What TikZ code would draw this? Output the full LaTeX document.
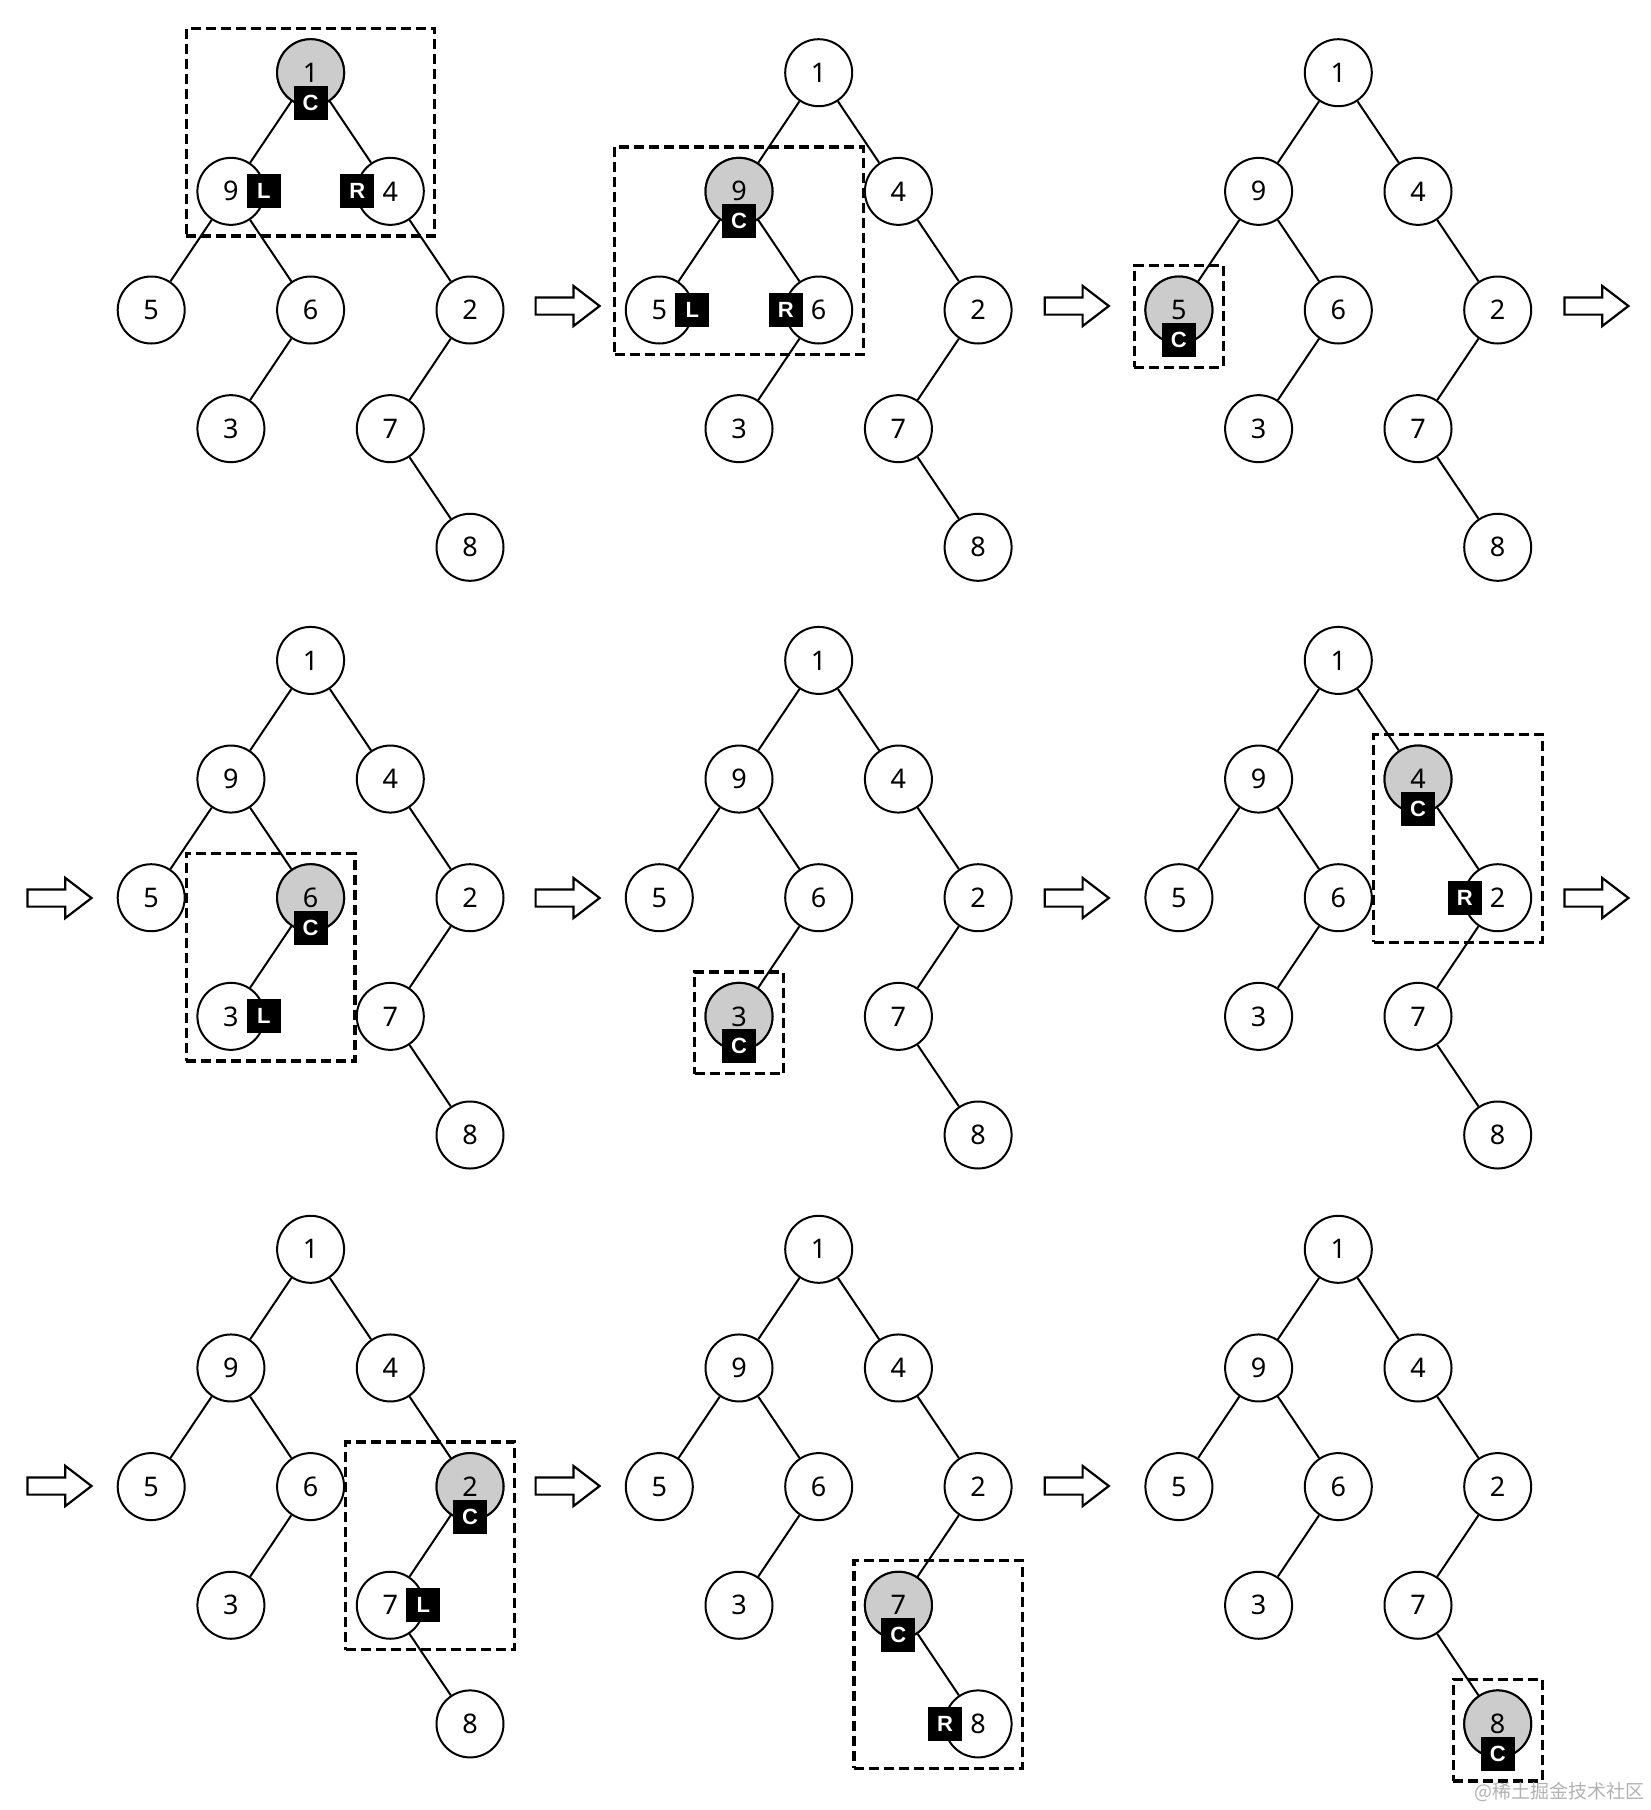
\documentclass[tikz,border=0pt]{standalone}
\usepackage{fontspec}
\setmainfont{Noto Sans}
\newfontfamily\tagfont{Liberation Sans}
\newfontfamily\cjk{Noto Sans CJK SC}
\usetikzlibrary{positioning, fit, shapes.arrows}

\definecolor{curgray}{gray}{0.8}
\tikzset{
  tnode/.style={circle, draw, fill=white, line width=2pt, minimum size=67pt, inner sep=0pt,
    font=\fontsize{27}{30}\selectfont},
  edge/.style={line width=2pt},
  tag/.style={fill=black, text=white, minimum size=34pt, inner sep=0pt,
    font=\tagfont\bfseries\fontsize{22}{22}\selectfont},
  selbox/.style={draw, dashed, dash pattern=on 10pt off 5pt, line width=3.3pt, inner sep=10pt},
  bigarrow/.style={single arrow, draw, fill=white, line width=2.2pt, inner xsep=0pt,
    inner ysep=7.5pt, minimum height=64pt, single arrow head extend=11.5pt,
    single arrow tip angle=75, anchor=tail}
}

% one tree: #1 prefix, (#2,#3) position of the root
\newcommand{\bintree}[3]{%
  \begin{scope}[shift={(#2,#3)}]
    \node[tnode] (#11) at (0,0) {1};
    \node[tnode] (#19) at (-79.7,118.65) {9};
    \node[tnode] (#14) at (79.7,118.65) {4};
    \node[tnode] (#15) at (-159.4,237.3) {5};
    \node[tnode] (#16) at (0,237.3) {6};
    \node[tnode] (#12) at (159.4,237.3) {2};
    \node[tnode] (#13) at (-79.7,355.95) {3};
    \node[tnode] (#17) at (79.7,355.95) {7};
    \node[tnode] (#18) at (159.4,474.6) {8};
  \end{scope}
  \draw[edge] (#11) -- (#19) (#11) -- (#14)
    (#19) -- (#15) (#19) -- (#16) (#14) -- (#12)
    (#16) -- (#13) (#12) -- (#17) (#17) -- (#18);
}
% current node: gray with a C tag
\newcommand{\curnode}[2]{%
  \node[tnode, fill=curgray] (#1#2g) at (#1#2) {#2};
  \node[tag] (#1#2c) at ([yshift=-30pt]#1#2.center) {C};
}
\newcommand{\lefttag}[2]{\node[tag] (#1#2l) at ([xshift=33pt]#1#2.center) {L};}
\newcommand{\righttag}[2]{\node[tag] (#1#2r) at ([xshift=-33pt]#1#2.center) {R};}

\begin{document}
\begin{tikzpicture}[x=1pt, y=-1pt]
  \useasboundingbox (0,0) rectangle (1650,1810);

  % first row
  \bintree{A}{310.6}{72.7}
  \curnode{A}{1} \lefttag{A}{9} \righttag{A}{4}
  \node[selbox, fit=(A1)(A9)(A4)] (Abox) {};

  \bintree{B}{818.7}{72.7}
  \curnode{B}{9} \lefttag{B}{5} \righttag{B}{6}
  \node[selbox, fit=(B9)(B5)(B6)] (Bbox) {};

  \bintree{C}{1338.3}{72.7}
  \curnode{C}{5}
  \node[selbox, fit=(C5)(C5c)] (Cbox) {};

  % second row
  \bintree{D}{310.6}{660.4}
  \curnode{D}{6} \lefttag{D}{3}
  \node[selbox, fit=(D6)(D3)] (Dbox) {};

  \bintree{E}{818.7}{660.4}
  \curnode{E}{3}
  \node[selbox, fit=(E3)(E3c)] (Ebox) {};

  \bintree{F}{1338.3}{660.4}
  \curnode{F}{4} \righttag{F}{2}
  \node[selbox, fit=(F4)(F2)] (Fbox) {};

  % third row
  \bintree{G}{310.6}{1249.3}
  \curnode{G}{2} \lefttag{G}{7}
  \node[selbox, fit=(G2)(G7)] (Gbox) {};

  \bintree{H}{818.7}{1249.3}
  \curnode{H}{7} \righttag{H}{8}
  \node[selbox, fit=(H7)(H8)] (Hbox) {};

  \bintree{I}{1338.3}{1249.3}
  \curnode{I}{8}
  \node[selbox, fit=(I8)(I8c)] (Ibox) {};

  % arrows between the steps
  \node[bigarrow] (r1a) at (534.5,306) {};
  \node[bigarrow] (r1b) at (1043.7,306) {};
  \node[bigarrow] (r1c) at (1563.3,306) {};
  \node[bigarrow] (r2a) at (26.4,898) {};
  \node[bigarrow] (r2b) at (534.5,898) {};
  \node[bigarrow] (r2c) at (1043.7,898) {};
  \node[bigarrow] (r2d) at (1563.3,898) {};
  \node[bigarrow] (r3a) at (26.4,1486) {};
  \node[bigarrow] (r3b) at (534.5,1486) {};
  \node[bigarrow] (r3c) at (1043.7,1486) {};

  \node[anchor=east, text=gray!60, inner sep=0pt, font=\cjk\fontsize{19}{20}\selectfont]
    (mark) at (1645,1792) {@稀土掘金技术社区};
\end{tikzpicture}
\end{document}
